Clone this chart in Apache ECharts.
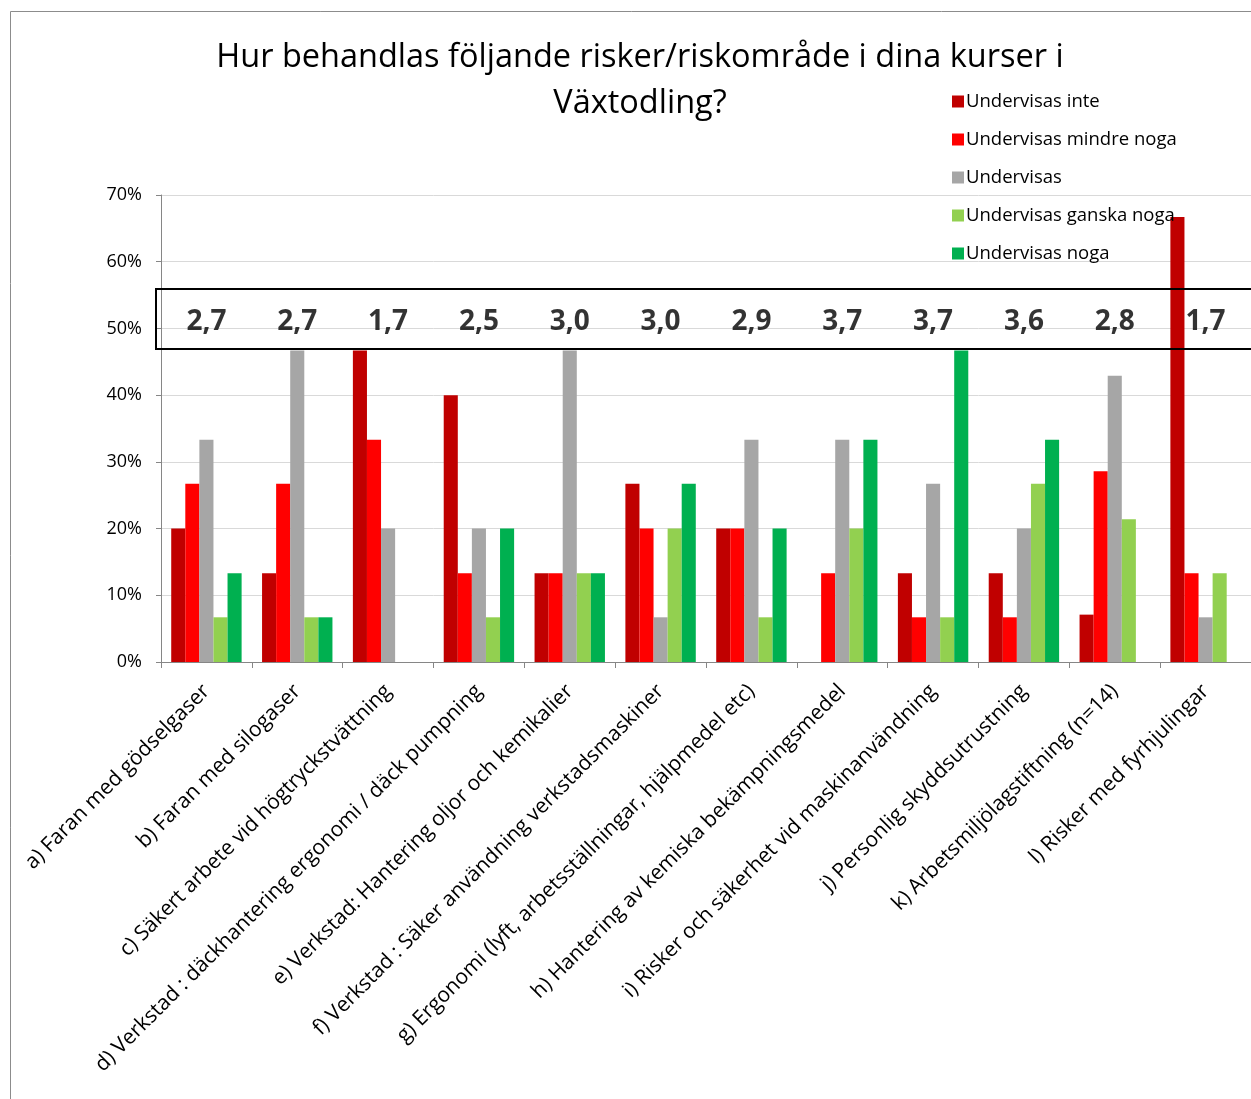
<!DOCTYPE html>
<html>
<head>
<meta charset="utf-8">
<script src="https://cdn.jsdelivr.net/npm/echarts@6/dist/echarts.min.js"></script>
<style>
  html, body { margin: 0; padding: 0; background: #fff; }
  #chart { width: 1251px; height: 1099px; }
</style>
</head>
<body>
<div id="chart"></div>
<script>
'use strict'

var categories = [
    'a) Faran med gödselgaser',
    'b) Faran med silogaser',
    'c) Säkert arbete vid högtryckstvättning',
    'd) Verkstad : däckhantering ergonomi / däck pumpning',
    'e) Verkstad: Hantering oljor och kemikalier',
    'f) Verkstad : Säker användning verkstadsmaskiner',
    'g) Ergonomi (lyft, arbetsställningar, hjälpmedel etc)',
    'h) Hantering av kemiska bekämpningsmedel',
    'i) Risker och säkerhet vid maskinanvändning',
    'j) Personlig skyddsutrustning',
    'k) Arbetsmiljölagstiftning (n=14)',
    'l) Risker med fyrhjulingar'
];

var seriesNames = ['Undervisas inte', 'Undervisas mindre noga', 'Undervisas', 'Undervisas ganska noga', 'Undervisas noga'];

var inte        = [20.0, 13.3, 46.7, 40.0, 13.3, 26.7, 20.0, 0,    13.3, 13.3, 7.1,  66.7];
var mindreNoga  = [26.7, 26.7, 33.3, 13.3, 13.3, 20.0, 20.0, 13.3, 6.7,  6.7,  28.6, 13.3];
var undervisas  = [33.3, 46.7, 20.0, 20.0, 46.7, 6.7,  33.3, 33.3, 26.7, 20.0, 42.9, 6.7];
var ganskaNoga  = [6.7,  6.7,  0,    6.7,  13.3, 20.0, 6.7,  20.0, 6.7,  26.7, 21.4, 13.3];
var noga        = [13.3, 6.7,  0,    20.0, 13.3, 26.7, 20.0, 33.3, 46.7, 33.3, 0,    0];

var averages = ['2,7', '2,7', '1,7', '2,5', '3,0', '3,0', '2,9', '3,7', '3,7', '3,6', '2,8', '1,7'];
var averageLevel = 51.0;

var colors = ['#C00000', '#FF0000', '#A6A6A6', '#92D050', '#00B050'];
var font = '"Open Sans", "Noto Sans", sans-serif';

var chart = echarts.init(document.getElementById('chart'));

var barSeries = [inte, mindreNoga, undervisas, ganskaNoga, noga].map(function (vals, i) {
    return {
        name: seriesNames[i],
        type: 'bar',
        data: vals,
        barGap: '0%',
        barCategoryGap: '22.5%',
        itemStyle: { color: colors[i] }
    };
});

barSeries.push({
    name: 'medel',
    type: 'scatter',
    symbolSize: 0,
    silent: true,
    data: averages.map(function (a) { return averageLevel; }),
    label: {
        show: true,
        position: 'inside',
        formatter: function (p) { return averages[p.dataIndex]; },
        fontFamily: font,
        fontWeight: 'bold',
        fontSize: 28,
        color: '#000'
    }
});

chart.setOption({
    backgroundColor: '#fff',
    color: colors,
    animation: false,
    title: {
        text: 'Hur behandlas följande risker/riskområde i dina kurser i\nVäxtodling?',
        left: 635,
        top: 30,
        textAlign: 'center',
        textStyle: {
            fontFamily: font,
            fontWeight: 'normal',
            fontSize: 32.5,
            lineHeight: 46,
            color: '#000'
        }
    },
    legend: {
        data: seriesNames,
        orient: 'vertical',
        left: 947,
        top: 87,
        itemWidth: 12,
        itemHeight: 12,
        itemGap: 19,
        icon: 'rect',
        textStyle: { fontFamily: font, fontSize: 18.5, color: '#000', padding: [0, 0, 0, -3] }
    },
    graphic: [
        {
            type: 'rect',
            silent: true,
            shape: { x: 10.5, y: 11.5, width: 1300, height: 1200 },
            style: { fill: 'none', stroke: '#8c8c8c', lineWidth: 1 }
        },
        {
            type: 'rect',
            silent: true,
            z: 10,
            shape: { x: 156, y: 289, width: 1200, height: 60 },
            style: { fill: 'none', stroke: '#000', lineWidth: 2 }
        }
    ],
    grid: {
        left: 161,
        top: 195,
        width: 1096,
        bottom: 437,
        containLabel: false
    },
    xAxis: {
        type: 'category',
        data: categories,
        axisLine: { lineStyle: { color: '#868686' } },
        axisTick: { show: true, length: 6, lineStyle: { color: '#868686' } },
        axisLabel: {
            interval: 0,
            rotate: 45,
            margin: 26,
            fontFamily: font,
            fontSize: 21,
            color: '#000'
        }
    },
    yAxis: {
        type: 'value',
        min: 0,
        max: 70,
        interval: 10,
        axisLine: { show: true, lineStyle: { color: '#868686' } },
        axisTick: { show: true, length: 5, lineStyle: { color: '#868686' } },
        splitLine: { lineStyle: { color: '#d9d9d9' } },
        axisLabel: {
            formatter: '{value}%',
            margin: 19,
            fontFamily: font,
            fontSize: 18,
            color: '#000'
        }
    },
    series: barSeries
});
</script>
</body>
</html>
